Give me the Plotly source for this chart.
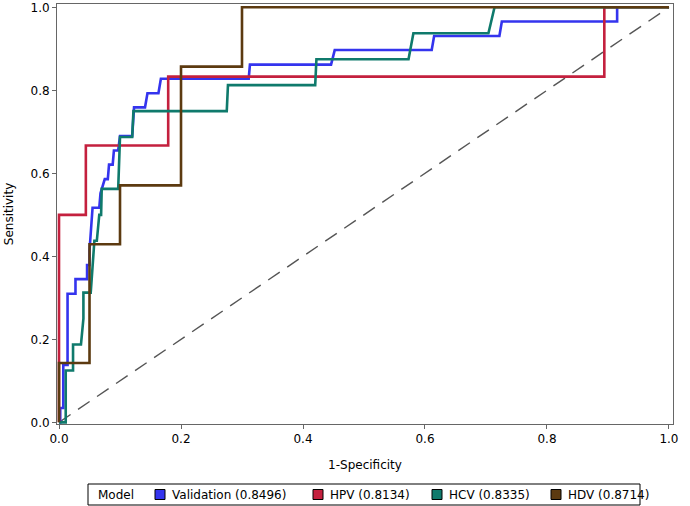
import plotly.graph_objects as go

# ROC curves (1-specificity, sensitivity)
val_fpr = [0, 0.002, 0.002, 0.007, 0.007, 0.014, 0.014, 0.027, 0.027, 0.046, 0.046, 0.05, 0.05,
           0.055, 0.066, 0.068, 0.075, 0.08, 0.082, 0.088, 0.09, 0.097, 0.1, 0.12, 0.123, 0.141,
           0.145, 0.163, 0.167, 0.311, 0.313, 0.446, 0.452, 0.611, 0.615, 0.722, 0.726, 0.915, 0.915]
val_tpr = [0, 0, 0.0345, 0.0345, 0.138, 0.138, 0.31, 0.31, 0.345, 0.345, 0.379, 0.379, 0.414,
           0.517, 0.517, 0.552, 0.586, 0.586, 0.621, 0.621, 0.655, 0.655, 0.69, 0.69, 0.759, 0.759,
           0.793, 0.793, 0.828, 0.828, 0.862, 0.862, 0.897, 0.897, 0.931, 0.931, 0.966, 0.966, 1.0]

hpv_fpr = [0, 0, 0.044, 0.044, 0.179, 0.179, 0.894, 0.894, 1.0]
hpv_tpr = [0, 0.5, 0.5, 0.667, 0.667, 0.833, 0.833, 1.0, 1.0]

hcv_fpr = [0, 0.011, 0.011, 0.023, 0.023, 0.036, 0.04, 0.04, 0.052, 0.058, 0.062, 0.066, 0.069,
           0.07, 0.097, 0.1, 0.12, 0.122, 0.275, 0.277, 0.42, 0.422, 0.573, 0.581, 0.704, 0.714, 1.0]
hcv_tpr = [0, 0, 0.125, 0.125, 0.1875, 0.1875, 0.25, 0.3125, 0.3125, 0.4375, 0.4375, 0.5, 0.5,
           0.5625, 0.5625, 0.6875, 0.6875, 0.75, 0.75, 0.8125, 0.8125, 0.875, 0.875, 0.9375,
           0.9375, 1.0, 1.0]

hdv_fpr = [0, 0, 0.05, 0.05, 0.1, 0.1, 0.2, 0.2, 0.3, 0.3, 1.0]
hdv_tpr = [0, 0.143, 0.143, 0.429, 0.429, 0.571, 0.571, 0.857, 0.857, 1.0, 1.0]

names = ["Validation (0.8496)", "HPV (0.8134)", "HCV (0.8335)", "HDV (0.8714)"]
colors = ["#3434EE", "#C4203E", "#0F7A6C", "#5C3A10"]

curves = [(val_fpr, val_tpr), (hpv_fpr, hpv_tpr), (hcv_fpr, hcv_tpr), (hdv_fpr, hdv_tpr)]

FONT = "DejaVu Sans"

fig = go.Figure()

# reference diagonal
fig.add_trace(go.Scatter(x=[0, 1], y=[0, 1], mode="lines", showlegend=False,
                         line=dict(color="#555555", width=1.4, dash="14px,9px")))

for (fx, ty), nm, c in zip(curves, names, colors):
    fig.add_trace(go.Scatter(x=fx, y=ty, mode="lines", name=nm, showlegend=False,
                             line=dict(color=c, width=2.6)))

# legend box drawn below the plot (paper coordinates), SAS style
L, W, T, H = 57, 616, 4, 420
px = lambda v: (v - L) / W
py = lambda v: (T + H - v) / H

shapes = [dict(type="rect", xref="paper", yref="paper", x0=px(88), x1=px(640),
               y0=py(484), y1=py(505), line=dict(color="black", width=1), fillcolor="white")]
annos = [dict(text="Model", xref="paper", yref="paper", x=px(96), y=py(494.5),
              xanchor="left", yanchor="middle", showarrow=False,
              font=dict(family=FONT, size=12, color="black"))]
sw_x = [160, 318, 437, 556]
for nm, c, sx in zip(names, colors, sw_x):
    shapes.append(dict(type="rect", xref="paper", yref="paper", x0=px(sx - 5), x1=px(sx + 5),
                       y0=py(499.5), y1=py(489.5), line=dict(color="black", width=1),
                       fillcolor=c))
    annos.append(dict(text=nm, xref="paper", yref="paper", x=px(sx + 10), y=py(494.5),
                      xanchor="left", yanchor="middle", showarrow=False,
                      font=dict(family=FONT, size=12, color="black")))

axis_style = dict(showgrid=False, zeroline=False, showline=True, linecolor="#666666",
                  linewidth=1, mirror=True, ticks="outside", ticklen=4, tickcolor="#666666",
                  tickfont=dict(family=FONT, size=12, color="black"),
                  tickformat=".1f", dtick=0.2, automargin=False)

fig.update_xaxes(range=[-0.0033, 1.0066], title=dict(text="1-Specificity", standoff=15,
                 font=dict(family=FONT, size=12, color="black")), **axis_style)
fig.update_yaxes(range=[-0.004, 1.008], title=dict(text="Sensitivity", standoff=14,
                 font=dict(family=FONT, size=12, color="black")), **axis_style)

fig.update_layout(
    width=690, height=506,
    margin=dict(l=L, r=690 - L - W, t=T, b=506 - T - H),
    plot_bgcolor="white", paper_bgcolor="white",
    font=dict(family=FONT, size=12, color="black"),
    showlegend=False,
    shapes=shapes,
    annotations=annos,
)

# drop the browser's default body margin so the figure sits at the window's corner
fig.write_html("out.html", config={"displayModeBar": False},
               post_script="document.body.style.margin='0';document.body.style.overflow='hidden';")
